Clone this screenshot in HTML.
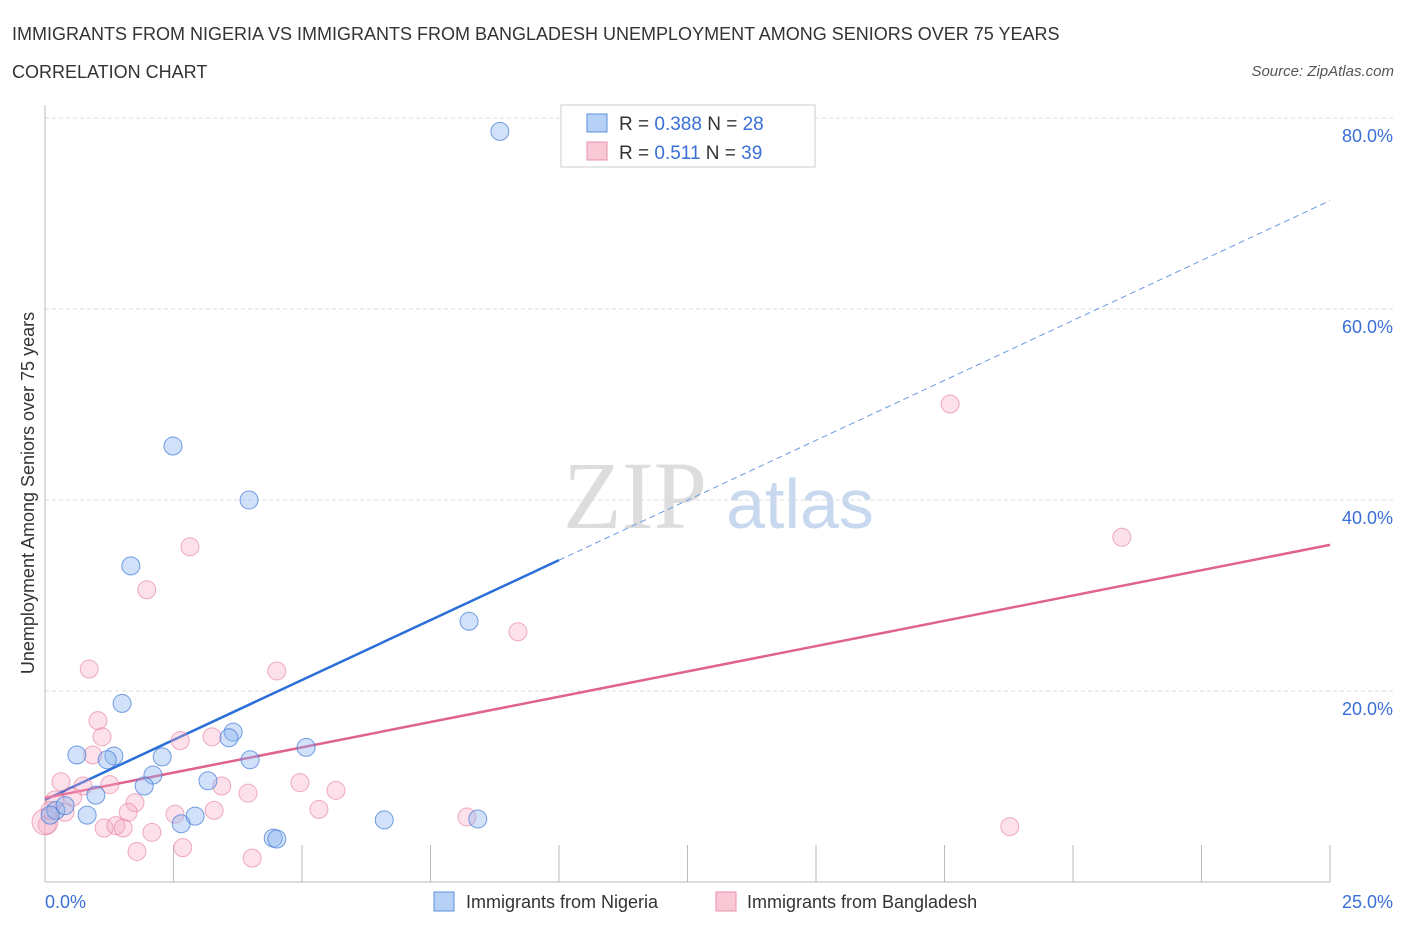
<!DOCTYPE html>
<html><head><meta charset="utf-8"><style>
body{margin:0;background:#fff;font-family:"Liberation Sans",sans-serif}
svg{display:block}
</style></head><body>
<svg width="1406" height="930" xmlns="http://www.w3.org/2000/svg">
<text x="12" y="40" font-size="18" fill="#333">IMMIGRANTS FROM NIGERIA VS IMMIGRANTS FROM BANGLADESH UNEMPLOYMENT AMONG SENIORS OVER 75 YEARS</text>
<text x="12" y="78" font-size="18" fill="#333">CORRELATION CHART</text>
<text x="1394" y="76" font-size="15" fill="#555" font-style="italic" text-anchor="end">Source: ZipAtlas.com</text>
<text x="635" y="528" font-size="96" fill="#ddd" font-family="Liberation Serif" text-anchor="middle">ZIP</text>
<text x="800" y="528" font-size="70" fill="#c8d8ef" text-anchor="middle">atlas</text>
<g id="grid"></g>
<line x1="45" y1="105" x2="45" y2="882" stroke="#bbb"/>
<line x1="45" y1="882" x2="1330" y2="882" stroke="#bbb"/>
<text transform="translate(34,493) rotate(-90)" font-size="18" fill="#333" text-anchor="middle">Unemployment Among Seniors over 75 years</text>
<text x="45" y="908" font-size="18" fill="#3a6fd8">0.0%</text>
<text x="1393" y="908" font-size="18" fill="#3a6fd8" text-anchor="end">25.0%</text>
<g id="lines"></g>
<g id="pts"></g>
<g>
<rect x="561" y="105" width="254" height="62" fill="#fff" stroke="#ccc"/>
<rect x="587" y="114" width="20" height="18" fill="#b7d0f5" stroke="#5c8fe0"/>
<rect x="587" y="142" width="20" height="18" fill="#f9c8d6" stroke="#e890aa"/>
<text x="619" y="130" font-size="19" fill="#333">R = <tspan fill="#3a6fd8">0.388</tspan>   N = <tspan fill="#3a6fd8">28</tspan></text>
<text x="619" y="159" font-size="19" fill="#333">R =  <tspan fill="#3a6fd8">0.511</tspan>   N = <tspan fill="#3a6fd8">39</tspan></text>
</g>
<g><rect x="434" y="892" width="20" height="19" fill="#b7d0f5" stroke="#5c8fe0"/><text x="466" y="908" font-size="18" fill="#333">Immigrants from Nigeria</text></g>
<g><rect x="716" y="892" width="20" height="19" fill="#f9c8d6" stroke="#e890aa"/><text x="747" y="908" font-size="18" fill="#333">Immigrants from Bangladesh</text></g>
</svg>
<script>
const yTicks=[20,40,60,80];
const xTickCount=10;
const nigeriaX=[8.85,2.49,3.97,1.67,8.25,1.50,0.62,1.34,1.21,2.28,3.66,3.58,3.99,5.08,2.10,1.93,3.17,0.99,0.82,0.21,0.10,2.65,2.92,6.60,8.42,4.44,4.51,0.39];
const nigeriaY=[78.6,45.65,40.0,33.1,27.3,18.7,13.3,13.2,12.8,13.1,15.7,15.1,12.8,14.1,11.2,10.05,10.6,9.1,7.0,7.5,7.0,6.1,6.9,6.5,6.6,4.6,4.5,8.0];
const bangX=[17.61,20.95,2.82,1.98,9.20,0.86,4.51,1.03,1.11,2.63,3.25,0.93,0.31,0.74,3.44,4.96,5.66,3.95,1.75,0.54,1.62,2.53,3.29,5.33,1.15,1.38,1.52,2.08,1.79,2.68,4.03,8.21,18.77,0.04,0.10,0.39,0.19,0.0,1.26];
const bangY=[50.05,36.1,35.1,30.6,26.2,22.3,22.1,16.9,15.2,14.8,15.2,13.3,10.5,10.05,10.05,10.4,9.6,9.3,8.3,8.9,7.3,7.1,7.5,7.6,5.65,5.9,5.65,5.2,3.2,3.6,2.5,6.8,5.8,6.0,7.5,7.3,8.6,6.3,10.2];
const nigeriaFit=[8.6,2.51];
const bangFit=[8.8,1.06];
const X=v=>45+v/25*1285, Y=v=>882-v/80*764;
const NS="http://www.w3.org/2000/svg";
function mk(t,a,p){const e=document.createElementNS(NS,t);for(const k in a)e.setAttribute(k,a[k]);p.appendChild(e);return e;}
const grid=document.getElementById('grid');
yTicks.forEach(v=>{
 const l=mk('line',{x1:45,x2:1395,y1:Y(v),y2:Y(v),stroke:'#ddd','stroke-dasharray':'4,3'},grid);
 
 
 const t=mk('text',{x:1393,y:Y(v)+24,'font-size':18,fill:'#3a6fd8','text-anchor':'end'},grid);
 t.textContent=v.toFixed(1)+'%';
 
 
});
for(let i=1;i<=xTickCount;i++){
 const l=mk('line',{x1:X(i*2.5),x2:X(i*2.5),y1:845,y2:882,stroke:'#bbb'},grid);
 
 
}
const lines=document.getElementById('lines');
const bl=mk('line',{x1:X(0),y1:Y(nigeriaFit[0]),x2:X(10),y2:Y(nigeriaFit[0]+nigeriaFit[1]*10),stroke:'#2a6fd8','stroke-width':2.5},lines);


const bd=mk('line',{x1:X(10),y1:Y(nigeriaFit[0]+nigeriaFit[1]*10),x2:X(25),y2:Y(nigeriaFit[0]+nigeriaFit[1]*25),stroke:'#6a9ae0','stroke-width':1,'stroke-dasharray':'6,4'},lines);


const pl=mk('line',{x1:X(0),y1:Y(bangFit[0]),x2:X(25),y2:Y(bangFit[0]+bangFit[1]*25),stroke:'#e0628e','stroke-width':2.5},lines);


const pts=document.getElementById('pts');
bangX.forEach((x,i)=>{
 const c=mk('circle',{cx:X(x),cy:Y(bangY[i]),r:(x===0?13:9),fill:'rgba(246,170,194,0.35)',stroke:'rgba(230,120,155,0.6)','stroke-width':1},pts);
 
 
});
nigeriaX.forEach((x,i)=>{
 const c=mk('circle',{cx:X(x),cy:Y(nigeriaY[i]),r:9,fill:'rgba(140,180,240,0.4)',stroke:'rgba(60,120,215,0.7)','stroke-width':1},pts);
 
 
});
</script>
</body></html>
